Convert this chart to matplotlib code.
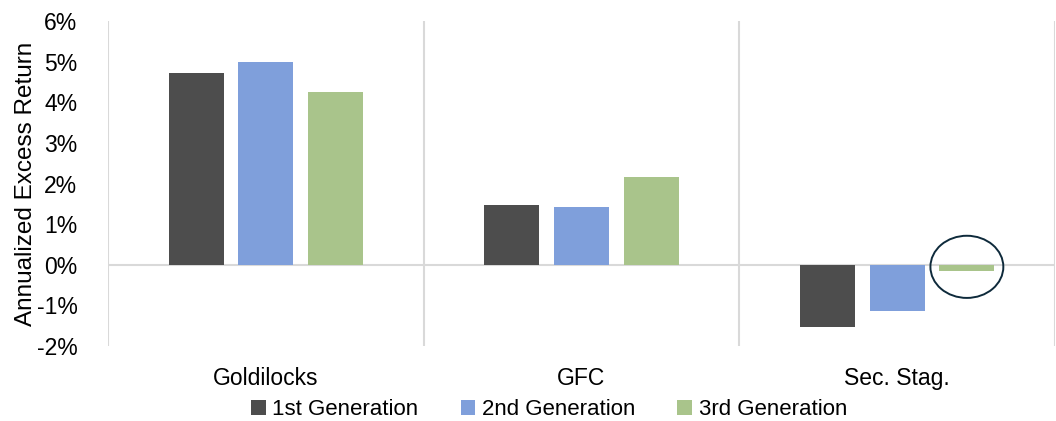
import numpy as np
import matplotlib.pyplot as plt
from matplotlib.patches import Ellipse
from matplotlib.ticker import PercentFormatter

plt.rcParams['font.family'] = ['Liberation Sans', 'DejaVu Sans']
plt.rcParams['axes.unicode_minus'] = False

# Regimes and annualized excess return (%) by generation
regimes = ["Goldilocks", "GFC", "Sec. Stag."]
gen1 = [4.73, 1.46, -1.52]
gen2 = [4.99, 1.42, -1.14]
gen3 = [4.25, 2.15, -0.15]
series_names = ["1st Generation", "2nd Generation", "3rd Generation"]
colors = ["#4d4d4d", "#7f9fdb", "#a9c48b"]

fig = plt.figure(figsize=(10.56, 4.21), dpi=100)
ax = fig.add_axes([0.1023, 0.178, 0.8967, 0.772])

x = np.arange(len(regimes))
step = 0.221
width = 0.174
for i, (vals, name, c) in enumerate(zip([gen1, gen2, gen3], series_names, colors)):
    ax.bar(x + (i - 1) * step, vals, width=width, color=c, label=name, zorder=3)

# category separators and zero line
grid_c = "#d9d9d9"
for b in [-0.5, 0.5, 1.5, 2.5]:
    ax.axvline(b, color=grid_c, lw=1.5, zorder=1)
ax.axhline(0, color=grid_c, lw=1.5, zorder=2)

# highlight the near-zero 3rd-gen result in Sec. Stag.
ax.add_patch(Ellipse((2 + step, -0.05), 0.231, 1.53, fill=False,
                     edgecolor="#0e2a3b", lw=1.4, zorder=4))

ax.set_xlim(-0.5, 2.5)
ax.set_ylim(-2, 6)
ax.set_yticks(np.arange(-2, 7, 1))
ax.yaxis.set_major_formatter(PercentFormatter(decimals=0))
ax.set_xticks(x)
ax.set_xticklabels(regimes)
ax.tick_params(axis="both", length=0, labelsize=16.5, colors="black")
ax.tick_params(axis="x", pad=15)
ax.tick_params(axis="y", pad=22)
for s in ax.spines.values():
    s.set_visible(False)

ax.set_ylabel("Annualized Excess Return", fontsize=17.5, labelpad=0)

fig.legend(loc="center", bbox_to_anchor=(0.52, 0.027), ncol=3, frameon=False,
           fontsize=16, handlelength=0.65, handleheight=0.65, handletextpad=0.3,
           columnspacing=1.9, borderpad=0)

fig.savefig("out.png", dpi=100)
